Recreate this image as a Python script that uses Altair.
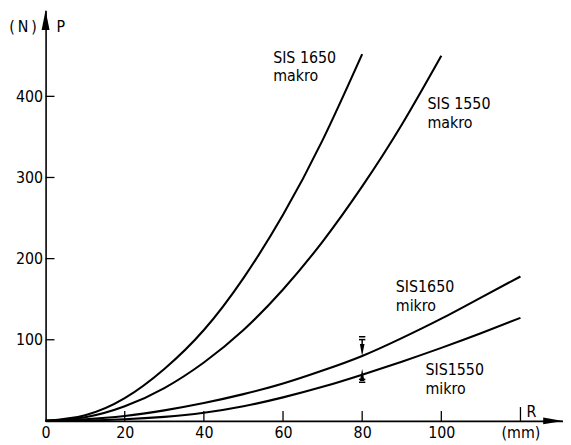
import altair as alt
import pandas as pd

# ---- data ----
R_1650_makro = [0, 10, 20, 30, 40, 50, 60, 70, 80]
P_1650_makro = [0, 7, 28, 64, 112, 176, 254, 346, 452]

R_1550_makro = [0, 10, 20, 30, 40, 50, 60, 70, 80, 90, 100]
P_1550_makro = [0, 4.5, 18, 40.5, 72, 112, 162, 221, 289, 365, 450]

R_mikro = [0, 10, 20, 30, 40, 50, 60, 70, 80, 90, 100, 110, 120]
P_1650_mikro = [0, 2, 6, 13, 22, 33, 46, 62, 80, 102, 126, 152, 178]
P_1550_mikro = [0, 0.5, 2, 5, 10, 18, 29, 42, 57, 73, 90, 108, 127]

x_ticks = [20, 40, 60, 80, 100, 120]
x_tick_len = [10, 10, 10, 10, 10, 14]
x_labels = [0, 20, 40, 60, 80, 100, 120]
y_ticks = [100, 200, 300, 400]

label_text = ["SIS 1650\nmakro", "SIS 1550\nmakro", "SIS1650\nmikro", "SIS1550\nmikro"]
label_R = [57.5, 96.5, 88.5, 96.0]
label_P = [441.5, 384.0, 158.5, 56.0]

# scatter markers at R = 80
mark_R = [80, 80]
mark_P = [87.2, 56.7]
mark_shape = ["M-0.38,-1L0.38,-1L0,1Z", "M-0.38,1L0.38,1L0,-1Z"]
stem_P1 = [101.0, 56.7]
stem_P2 = [87.2, 50.0]
bar_P = [103.7, 100.2, 51.2, 47.6]

FONT = "DejaVu Sans Condensed"
W, H = 523, 415
XMAX, YMAX = 130.75, 506

rows = []
for name, rs, ps in [("SIS 1650 makro", R_1650_makro, P_1650_makro),
                     ("SIS 1550 makro", R_1550_makro, P_1550_makro),
                     ("SIS 1650 mikro", R_mikro, P_1650_mikro),
                     ("SIS 1550 mikro", R_mikro, P_1550_mikro)]:
    for r, p in zip(rs, ps):
        rows.append({"series": name, "R": r, "P": p})
df = pd.DataFrame(rows)

xs = alt.Scale(domain=[0, XMAX], nice=False, zero=False)
ys = alt.Scale(domain=[0, YMAX], nice=False, zero=False)

x_axis = alt.Axis(values=x_labels, title=None, grid=False, ticks=False, tickSize=0,
                  labelPadding=4, labelFont=FONT, labelFontSize=16, labelColor="black",
                  domainColor="black", domainWidth=1.6, labelFlush=False,
                  labelExpr="datum.value == 120 ? '(mm)' : datum.label")
y_axis = alt.Axis(values=y_ticks, title=None, grid=False, ticks=False, tickSize=0,
                  labelPadding=3, labelFont=FONT, labelFontSize=16, labelColor="black",
                  domainColor="black", domainWidth=1.6)

lines = alt.Chart(df).mark_line(color="black", strokeWidth=2.1, interpolate="natural").encode(
    x=alt.X("R:Q", scale=xs, axis=x_axis),
    y=alt.Y("P:Q", scale=ys, axis=y_axis),
    detail="series:N",
)

xt = pd.DataFrame({"R": x_ticks, "len": x_tick_len})
xtick_rules = alt.Chart(xt).transform_calculate(
    zero="0", top=f"{YMAX} * datum.len / {H}"
).mark_rule(color="black", strokeWidth=1.3).encode(
    x=alt.X("R:Q", scale=xs),
    y=alt.Y("zero:Q", scale=ys),
    y2="top:Q",
)

yt = pd.DataFrame({"P": y_ticks})
ytick_rules = alt.Chart(yt).mark_rule(color="black", strokeWidth=1.3).encode(
    y=alt.Y("P:Q", scale=ys),
    x=alt.value(0),
    x2=alt.value(9),
)

labels = alt.Chart(pd.DataFrame({"t": label_text, "R": label_R, "P": label_P})).mark_text(
    align="left", baseline="alphabetic", font=FONT, fontSize=16, lineBreak="\n",
    lineHeight=19, color="black",
).encode(x=alt.X("R:Q", scale=xs), y=alt.Y("P:Q", scale=ys), text="t:N")

markers = alt.Chart(pd.DataFrame({"R": mark_R, "P": mark_P, "s": mark_shape})).mark_point(
    filled=True, color="black", size=150, opacity=1,
).encode(x=alt.X("R:Q", scale=xs), y=alt.Y("P:Q", scale=ys),
         shape=alt.Shape("s:N", scale=None))

stems = alt.Chart(pd.DataFrame({"R": mark_R, "P1": stem_P1, "P2": stem_P2})).mark_rule(
    color="black", strokeWidth=1.5).encode(
    x=alt.X("R:Q", scale=xs), y=alt.Y("P1:Q", scale=ys), y2="P2:Q")

bars = alt.Chart(pd.DataFrame({"R1": [79.2] * 4, "R2": [80.8] * 4, "P": bar_P})).mark_rule(
    color="black", strokeWidth=1.5).encode(
    x=alt.X("R1:Q", scale=xs), x2="R2:Q", y=alt.Y("P:Q", scale=ys))

# axis arrows
one = pd.DataFrame({"a": [0]})
yarrow = alt.Chart(one).mark_point(
    filled=True, color="black", opacity=1, size=400, shape="M0,-1L0.4,1L-0.4,1Z").encode(
    x=alt.value(0), y=alt.value(10))
xarrow = alt.Chart(one).mark_point(
    filled=True, color="black", opacity=1, size=400, shape="M1,0L-1,-0.35L-1,0.35Z").encode(
    x=alt.value(W - 10), y=alt.value(H))

title_N = alt.Chart(one).mark_text(
    font=FONT, fontSize=16, color="black", baseline="middle", align="right",
    text="(\u2009N\u2009)").encode(x=alt.value(-9), y=alt.value(17))
title_P = alt.Chart(one).mark_text(
    font=FONT, fontSize=16, color="black", baseline="middle", align="left", text="P").encode(
    x=alt.value(11), y=alt.value(17))
title_R = alt.Chart(one).mark_text(
    font=FONT, fontSize=16, color="black", baseline="middle", align="left", text="R").encode(
    x=alt.value(486), y=alt.value(406))

chart = alt.layer(
    lines, xtick_rules, ytick_rules, labels, stems, bars, markers,
    yarrow, xarrow, title_N, title_P, title_R,
).properties(
    width=W, height=H,
    autosize=alt.AutoSizeParams(type="none"),
    padding={"left": 38, "top": 0, "right": 0, "bottom": 22},
    background="white",
).configure_view(stroke=None)

chart.save("out.html", embed_options={"renderer": "svg", "actions": False})
